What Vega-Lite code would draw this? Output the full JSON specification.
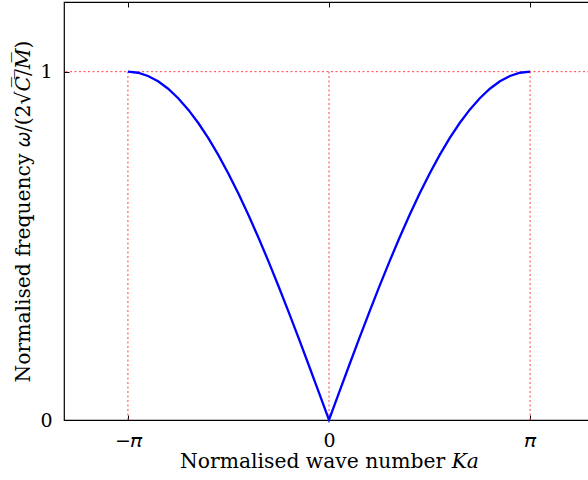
{
  "$schema": "https://vega.github.io/schema/vega-lite/v6.json",
  "width": 530,
  "height": 418,
  "autosize": {"type": "none"},
  "padding": {"left": 64, "top": 2, "right": 0, "bottom": 60},
  "background": "white",
  "config": {
    "view": {"stroke": "#000000", "strokeWidth": 1.2},
    "font": "DejaVu Serif",
    "axis": {
      "domain": false,
      "grid": false,
      "ticks": true,
      "tickColor": "#000000",
      "tickSize": -5,
      "tickWidth": 1,
      "labelFont": "DejaVu Serif",
      "labelFontSize": 19,
      "labelColor": "#000000",
      "titleFont": "DejaVu Serif",
      "titleFontSize": 20.3,
      "titleFontWeight": "normal",
      "titleColor": "#000000"
    }
  },
  "layer": [
    {
      "data": {"values": [{"y": 1}]},
      "mark": {"type": "rule", "color": "#ff4040", "strokeDash": [2, 2.5], "strokeWidth": 1},
      "encoding": {
        "y": {"field": "y", "type": "quantitative", "scale": {"domain": [0, 1.2]}}
      }
    },
    {
      "data": {"values": [
        {"x": -3.14159, "y0": 0, "y1": 1},
        {"x": 0, "y0": 0, "y1": 1},
        {"x": 3.14159, "y0": 0, "y1": 1}
      ]},
      "mark": {"type": "rule", "color": "#ff4040", "strokeDash": [2, 2.5], "strokeWidth": 1},
      "encoding": {
        "x": {"field": "x", "type": "quantitative", "scale": {"domain": [-4.14, 4.14], "nice": false, "zero": false},
          "axis": {"orient": "top", "title": null, "labels": false, "values": [-3.14159, 0, 3.14159]}},
        "y": {"field": "y0", "type": "quantitative"},
        "y2": {"field": "y1"}
      }
    },
    {
      "data": {"values": [
        {"Ka": -3.14159, "w": 1},
        {"Ka": -2.98451, "w": 0.996917},
        {"Ka": -2.82743, "w": 0.987688},
        {"Ka": -2.67035, "w": 0.97237},
        {"Ka": -2.51327, "w": 0.951057},
        {"Ka": -2.35619, "w": 0.92388},
        {"Ka": -2.19911, "w": 0.891007},
        {"Ka": -2.04204, "w": 0.85264},
        {"Ka": -1.88496, "w": 0.809017},
        {"Ka": -1.72788, "w": 0.760406},
        {"Ka": -1.5708, "w": 0.707107},
        {"Ka": -1.41372, "w": 0.649448},
        {"Ka": -1.25664, "w": 0.587785},
        {"Ka": -1.09956, "w": 0.522499},
        {"Ka": -0.94248, "w": 0.45399},
        {"Ka": -0.7854, "w": 0.382683},
        {"Ka": -0.62832, "w": 0.309017},
        {"Ka": -0.47124, "w": 0.233445},
        {"Ka": -0.31416, "w": 0.156434},
        {"Ka": -0.15708, "w": 0.078459},
        {"Ka": 0, "w": 0},
        {"Ka": 0.15708, "w": 0.078459},
        {"Ka": 0.31416, "w": 0.156434},
        {"Ka": 0.47124, "w": 0.233445},
        {"Ka": 0.62832, "w": 0.309017},
        {"Ka": 0.7854, "w": 0.382683},
        {"Ka": 0.94248, "w": 0.45399},
        {"Ka": 1.09956, "w": 0.522499},
        {"Ka": 1.25664, "w": 0.587785},
        {"Ka": 1.41372, "w": 0.649448},
        {"Ka": 1.5708, "w": 0.707107},
        {"Ka": 1.72788, "w": 0.760406},
        {"Ka": 1.88496, "w": 0.809017},
        {"Ka": 2.04204, "w": 0.85264},
        {"Ka": 2.19911, "w": 0.891007},
        {"Ka": 2.35619, "w": 0.92388},
        {"Ka": 2.51327, "w": 0.951057},
        {"Ka": 2.67035, "w": 0.97237},
        {"Ka": 2.82743, "w": 0.987688},
        {"Ka": 2.98451, "w": 0.996917},
        {"Ka": 3.14159, "w": 1}
      ]},
      "mark": {"type": "line", "color": "#0000ff", "strokeWidth": 2.3},
      "encoding": {
        "x": {"field": "Ka", "type": "quantitative", "scale": {"domain": [-4.14, 4.14], "nice": false, "zero": false},
          "axis": {"orient": "bottom", "title": "Normalised wave number 𝐾𝑎", "values": [-3.14159, 0, 3.14159],
            "labelExpr": "datum.value < -1 ? '−𝜋' : (datum.value > 1 ? '𝜋' : '0')",
            "labelPadding": 16, "titlePadding": 1}},
        "y": {"field": "w", "type": "quantitative", "scale": {"domain": [0, 1.2], "nice": false},
          "axis": {"title": "Normalised frequency 𝜔/(2√𝐶̅/̅𝑀̅)", "values": [0, 1], "format": "d", "labelPadding": 17, "titlePadding": 6}}
      }
    }
  ],
  "resolve": {"axis": {"x": "independent"}}
}
